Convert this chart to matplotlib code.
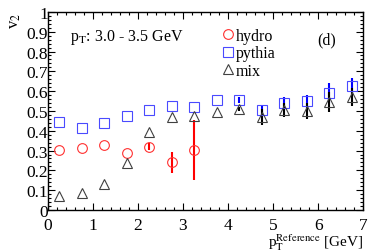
import numpy as np
import matplotlib
matplotlib.use('Agg')
import matplotlib.pyplot as plt
from matplotlib.lines import Line2D

# data
pt = np.array([0.25, 0.75, 1.25, 1.75, 2.25, 2.75, 3.25, 3.75, 4.25, 4.75, 5.25, 5.75, 6.25, 6.75])

hydro_pt = pt[:7]
hydro_v2 = np.array([0.303, 0.311, 0.328, 0.286, 0.320, 0.240, 0.303])
hydro_err = np.array([0.0, 0.0, 0.0, 0.0, 0.018, 0.055, 0.15])

pythia_v2 = np.array([0.443, 0.412, 0.438, 0.476, 0.503, 0.525, 0.520, 0.555, 0.555,
                      0.505, 0.539, 0.552, 0.590, 0.625])
pythia_err = np.array([0, 0, 0, 0, 0, 0, 0, 0, 0.015, 0.027, 0.033, 0.03, 0.05, 0.04])

mix_v2 = np.array([0.072, 0.085, 0.132, 0.237, 0.395, 0.468, 0.476, 0.497, 0.510,
                   0.470, 0.505, 0.500, 0.547, 0.570])
mix_err = np.array([0, 0, 0, 0, 0, 0, 0, 0, 0.01, 0.04, 0.035, 0.04, 0.05, 0.045])

plt.rcParams['font.family'] = 'Liberation Serif'
plt.rcParams['mathtext.fontset'] = 'stix'
plt.rcParams['font.size'] = 10.5

fig = plt.figure(figsize=(3.74, 2.53), dpi=100)
ax = fig.add_axes([0.128, 0.166, 0.843, 0.783])

c_hydro, c_pythia, c_mix = '#ff3030', '#4a4aff', '#404040'
ax.errorbar(hydro_pt, hydro_v2, yerr=hydro_err, fmt='o', mfc='none', mec=c_hydro,
            ecolor='red', elinewidth=1.5, ms=7, mew=0.8, capsize=0)
ax.errorbar(pt, pythia_v2, yerr=pythia_err, fmt='s', mfc='none', mec=c_pythia,
            ecolor='blue', elinewidth=1.5, ms=7, mew=0.8, capsize=0)
ax.errorbar(pt, mix_v2, yerr=mix_err, fmt='^', mfc='none', mec=c_mix,
            ecolor='black', elinewidth=1.5, ms=7, mew=0.8, capsize=0)

ax.set_xlim(0, 7)
ax.set_ylim(0, 1)
ax.set_xticks(np.arange(0, 8, 1))
ax.set_yticks(np.arange(0, 1.01, 0.1))
ax.set_yticklabels(['0', '0.1', '0.2', '0.3', '0.4', '0.5', '0.6', '0.7', '0.8', '0.9', '1'])
ax.set_xticks(np.arange(0, 7.01, 0.2), minor=True)
ax.set_yticks(np.arange(0, 1.001, 0.02), minor=True)
ax.tick_params(axis='both', which='both', direction='in', top=True, right=True)
ax.tick_params(which='major', length=5, width=0.8, labelsize=12.5)
ax.tick_params(axis='y', which='major', pad=0)
ax.tick_params(axis='x', which='major', pad=5)
ax.tick_params(which='minor', length=2.5, width=0.8)
for s in ax.spines.values():
    s.set_linewidth(1)

ax.set_xlabel(r'p$_{\rm T}^{\rm Reference}$ [GeV]', loc='right', fontsize=11, labelpad=-1)
ax.set_ylabel(r'v$_2$', loc='top', fontsize=12, labelpad=2)

ax.text(0.5, 0.875, r'p$_{\rm T}$: 3.0 - 3.5 GeV', fontsize=11.5, va='center')
ax.text(6.2, 0.862, '(d)', fontsize=11.5, va='center', ha='center')

handles = [Line2D([], [], ls='none', marker='o', mfc='none', mec=c_hydro, ms=7, mew=0.8),
           Line2D([], [], ls='none', marker='s', mfc='none', mec=c_pythia, ms=7, mew=0.8),
           Line2D([], [], ls='none', marker='^', mfc='none', mec=c_mix, ms=7, mew=0.8)]
ax.legend(handles, ['hydro', 'pythia', 'mix'], loc='upper left', bbox_to_anchor=(0.522, 0.975),
          frameon=False, fontsize=11.5, handlelength=0.6, handletextpad=0.15,
          labelspacing=0.08, borderpad=0.2)

fig.savefig('out.png', dpi=100)
